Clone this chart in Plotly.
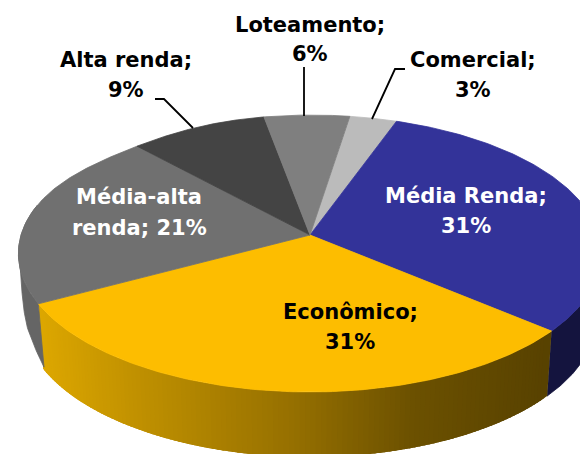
import numpy as np
import plotly.graph_objects as go

categories = ["Comercial", "Média Renda", "Econômico", "Média-alta renda", "Alta renda", "Loteamento"]
shown_percent = [3, 31, 31, 21, 9, 6]
shares = [2.97, 30.7, 30.97, 21.05, 8.92, 5.39]
slice_colors = ["#BBBBBB", "#333399", "#FDBD00", "#707070", "#444444", "#7F7F7F"]
side_colors = ["#777777", "#14143E", None, "#656565", "#333333", "#555555"]

CX, CY, A, B, P = 310, 235, 289, 136, 0.1336
DEPTH, SHRINK = 65, 0.982
START = 9.0


def top(theta):
    theta = np.asarray(theta, dtype=float)
    t = np.radians(theta)
    r = 1 - 0.03 * np.exp(-(((theta % 360) - 315) / 20) ** 2)
    X, Y = r * np.sin(t), r * np.cos(t)
    w = 1 + P * Y
    return CX + A * X / w, CY - B * Y / w


def bottom(theta):
    x, y = top(theta)
    return CX + (x - CX) * SHRINK, y + DEPTH


def tapered_bottom(theta):
    # the wall narrows to nothing as it turns round the far left of the disc
    x, y = top(theta)
    depth = np.interp(theta, [241, 250, 260, 270, 283], [65, 44, 25, 12, 0])
    shift = np.interp(theta, [241, 250, 260, 270, 283], [6, 2, 3, 0, 0])
    return x + shift, y + depth


def gold(x):
    xs = [37, 150, 300, 420, 551]
    r = [222, 190, 150, 108, 88]
    g = [168, 143, 112, 81, 66]
    return f"rgb({np.interp(x, xs, r):.0f},{np.interp(x, xs, g):.0f},0)"


fractions = np.array(shares) / sum(shares) * 360
ends = START + np.cumsum(fractions)
starts = ends - fractions

fig = go.Figure()


def poly(x, y, color, width=0.8):
    fig.add_trace(go.Scatter(x=x, y=y, mode="lines", fill="toself", fillcolor=color,
                             line=dict(color=color, width=width), hoverinfo="skip", showlegend=False))


# Visible side walls (front half of the disc)
for i, (s, e) in enumerate(zip(starts, ends)):
    lo, hi = max(s, 90), min(e, 283)
    if lo >= hi:
        continue
    if side_colors[i] is None:
        edges = np.linspace(lo, hi, 121)
        step = edges[1] - edges[0]
        for a0 in edges[:-1][::-1]:
            a1 = min(a0 + 2.5 * step, hi)
            th = np.linspace(a0, a1, 5)
            xt, yt = top(th)
            xb, yb = bottom(th[::-1])
            poly(np.r_[xt, xb, xt[0]], np.r_[yt, yb, yt[0]], gold(top(a0 + step / 2)[0]), width=0)
    else:
        th = np.linspace(lo, hi, 80)
        xt, yt = top(th)
        base = tapered_bottom if lo > 200 else bottom
        xb, yb = base(th[::-1])
        poly(np.r_[xt, xb, xt[0]], np.r_[yt, yb, yt[0]], side_colors[i])

# Top faces
for i, (s, e) in enumerate(zip(starts, ends)):
    th = np.linspace(s, e, 120)
    x, y = top(th)
    poly(np.r_[CX, x, CX], np.r_[CY, y, CY], slice_colors[i])

# Leader lines
for lx, ly in [([155, 164, 193], [99, 99, 128]),
               ([304, 304], [67, 116]),
               ([405, 395, 372], [69, 69, 119])]:
    fig.add_trace(go.Scatter(x=lx, y=ly, mode="lines", line=dict(color="black", width=1.8),
                             hoverinfo="skip", showlegend=False))

FONT = "DejaVu Sans"
labels = [
    (f"{categories[0]};", 473, 60, "black"),
    (f"{shown_percent[0]}%", 473, 90, "black"),
    (f"{categories[1]};", 466, 196, "white"),
    (f"{shown_percent[1]}%", 466, 226, "white"),
    (f"{categories[2]};", 350, 312, "black"),
    (f"{shown_percent[2]}%", 350, 342, "black"),
    ("Média-alta", 139, 197, "white"),
    (f"renda; {shown_percent[3]}%", 139, 228, "white"),
    (f"{categories[4]};", 126, 60, "black"),
    (f"{shown_percent[4]}%", 126, 90, "black"),
    (f"{categories[5]};", 310, 25, "black"),
    (f"{shown_percent[5]}%", 310, 54, "black"),
]
for text, x, y, c in labels:
    fig.add_annotation(x=x, y=y, text=f"<b>{text}</b>", showarrow=False, align="center",
                       font=dict(family=FONT, size=21, color=c))

fig.update_layout(
    width=580, height=454, margin=dict(l=0, r=0, t=0, b=0),
    paper_bgcolor="white", plot_bgcolor="white", showlegend=False,
    xaxis=dict(range=[0, 580], visible=False, fixedrange=True),
    yaxis=dict(range=[454, 0], visible=False, fixedrange=True),
)
fig.write_html("out.html", config={"displayModeBar": False},
               post_script="document.body.style.margin='0';document.documentElement.style.overflow='hidden';")
